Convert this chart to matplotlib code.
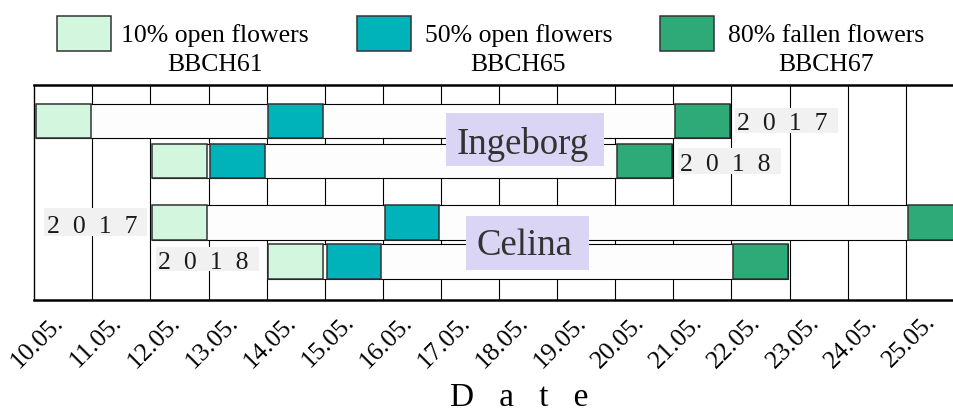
import matplotlib
matplotlib.use('Agg')
import matplotlib.pyplot as plt
from matplotlib.patches import Rectangle

plt.rcParams['font.family'] = ['Liberation Serif', 'DejaVu Serif']

# --- data -----------------------------------------------------------------
DATES = ["10.05.", "11.05.", "12.05.", "13.05.", "14.05.", "15.05.", "16.05.", "17.05.",
         "18.05.", "19.05.", "20.05.", "21.05.", "22.05.", "23.05.", "24.05.", "25.05."]
FIRST_DAY = 10  # day of month of the first column

STAGE_LABELS = ["10% open flowers", "50% open flowers", "80% fallen flowers"]
STAGE_CODES = ["BBCH61", "BBCH65", "BBCH67"]
STAGE_COLORS = ["#d3f6df", "#00b2ba", "#2eaa78"]

CULTIVARS = ["Ingeborg", "Ingeborg", "Celina", "Celina"]
YEARS = ["2017", "2018", "2017", "2018"]
# day of May reached for BBCH61 / BBCH65 / BBCH67
BBCH61 = [10, 12, 12, 14]
BBCH65 = [14, 13, 16, 15]
BBCH67 = [21, 20, 25, 22]

# --- layout ---------------------------------------------------------------
ROW_Y = [0.9, 1.9, 3.44, 4.42]
BAR_H = 0.87
# year tag boxes (x0, y_top, width, height) in data units
YEAR_BOX = [(12.06, 0.575, 1.77, 0.62), (11.08, 1.575, 1.77, 0.65),
            (0.17, 3.075, 1.77, 0.69), (2.09, 4.04, 1.77, 0.62)]
# cultivar name boxes (x0, x1, y_top, y_bottom, baseline)
NAME_BOX = {"Ingeborg": (7.09, 9.81, 0.71, 2.03, 1.70),
            "Celina": (7.43, 9.55, 3.275, 4.62, 4.225)}

W, H = 954, 414
fig = plt.figure(figsize=(W / 100, H / 100), dpi=100)
ax = fig.add_axes([34.3 / W, 1 - 300.7 / H, 1 - 34.3 / W, (300.7 - 86) / H])

ax.set_xlim(0, (W - 34.3) / 58.1)
ax.set_ylim(5.37, 0)

# whole flowering period as a white bar, stages as coloured boxes on top
for i in range(len(YEARS)):
    days = [BBCH61[i], BBCH65[i], BBCH67[i]]
    start = min(days) - FIRST_DAY
    end = max(days) - FIRST_DAY + 1
    ax.barh(ROW_Y[i], end - start - 0.06, left=start + 0.03, height=BAR_H,
            color="#fdfdfd", edgecolor="black", linewidth=0.8, zorder=2)
    for d, c in zip(days, STAGE_COLORS):
        ax.barh(ROW_Y[i], 0.94, left=d - FIRST_DAY + 0.03, height=BAR_H,
                color=c, edgecolor="#333333", linewidth=1.1, zorder=3)

# year tags
for yr, (x0, yt, bw, bh) in zip(YEARS, YEAR_BOX):
    ax.add_patch(Rectangle((x0, yt), bw, bh, facecolor="#f1f1f1",
                           edgecolor="none", zorder=4))
    ax.text(x0 + 0.04, yt + bh - 0.09, "  ".join(yr), fontsize=18.5,
            color="#1a1a1a", ha="left", va="baseline", zorder=5)

# cultivar names
for name, (x0, x1, yt, yb, base) in NAME_BOX.items():
    ax.add_patch(Rectangle((x0, yt), x1 - x0, yb - yt, facecolor="#dad4f5",
                           edgecolor="none", zorder=4))
    ax.text((x0 + x1) / 2 - 0.05, base, name, fontsize=26.5, color="#333333",
            ha="center", va="baseline", zorder=5)

# axis styling
ax.set_axisbelow(True)
ax.set_xticks([i + 0.45 for i in range(len(DATES))])
ax.set_xticklabels(DATES, rotation=45, ha="right", va="center",
                   rotation_mode="anchor", fontsize=18.5)
ax.set_xticks(range(1, len(DATES)), minor=True)
ax.tick_params(axis="x", which="both", length=0, pad=13)
ax.grid(which="minor", axis="x", color="black", linewidth=0.8)
ax.set_yticks([])
for s in ["top", "bottom"]:
    ax.spines[s].set_linewidth(1.8)
ax.spines["left"].set_linewidth(1.0)
ax.spines["right"].set_visible(False)

fig.text(519 / W, 1 / H, "D   a   t   e", fontsize=24, ha="center", va="bottom")

# legend drawn by hand above the plot
LEG_PATCH_X = [57, 357, 660]
LEG_TEXT_X = [215, 518.5, 826]
for lbl, code, c, px, tx in zip(STAGE_LABELS, STAGE_CODES, STAGE_COLORS,
                                LEG_PATCH_X, LEG_TEXT_X):
    fig.add_artist(Rectangle((px / W, 1 - 51.5 / H), 54 / W, 35 / H,
                             transform=fig.transFigure, facecolor=c,
                             edgecolor="#333333", linewidth=1.1))
    fig.text(tx / W, 1 - 42.3 / H, lbl, fontsize=18.5, ha="center", va="baseline")
    fig.text(tx / W, 1 - 70.7 / H, code, fontsize=18.5, ha="center", va="baseline")

fig.savefig("out.png", dpi=100)
